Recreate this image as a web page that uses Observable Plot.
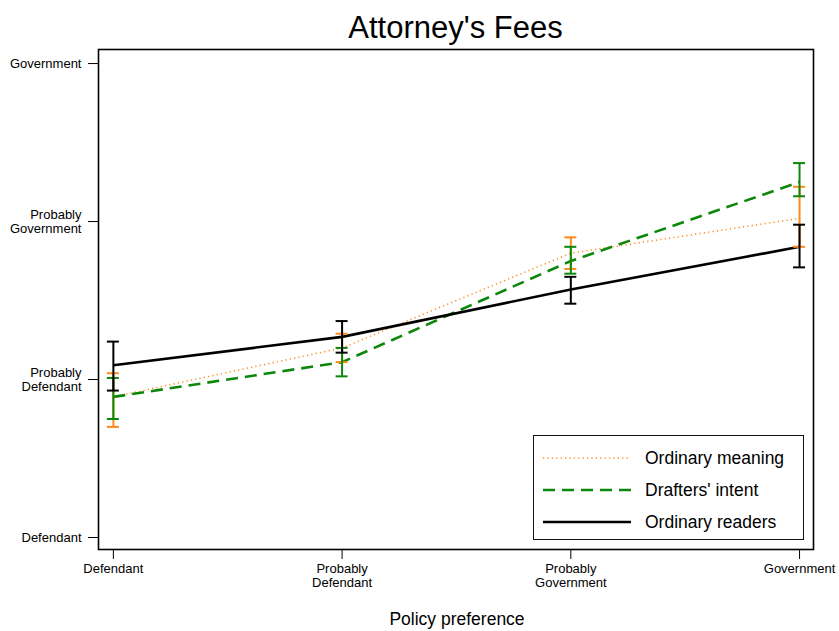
<!DOCTYPE html>
<html>
<head>
<meta charset="utf-8">
<script src="https://cdn.jsdelivr.net/npm/d3@7"></script>
<script src="https://cdn.jsdelivr.net/npm/@observablehq/plot@0.6"></script>
<style>
  html, body { margin: 0; padding: 0; background: #fff; }
  #wrap { position: relative; width: 839px; height: 631px; font-family: "Liberation Sans", Arial, sans-serif; }
  #title { position: absolute; left: 98px; width: 715px; top: 9px; text-align: center; font-size: 31px; line-height: 38px; }
  #xlabel { position: absolute; left: 98px; width: 718px; top: 608px; text-align: center; font-size: 17.5px; line-height: 22px; }
  #legend { position: absolute; left: 533px; top: 435px; width: 271px; height: 105px; border: 1.5px solid #111; background: #fff; box-sizing: border-box; }
  .item { position: absolute; left: 0; height: 24px; }
  .item svg { position: absolute; left: 9px; top: 0; }
  .item span { position: absolute; left: 111px; top: 0px; font-size: 17.5px; line-height: 22px; white-space: nowrap; }
</style>
</head>
<body>
<div id="wrap">
  <div id="chart"></div>
  <div id="title">Attorney's Fees</div>
  <div id="xlabel">Policy preference</div>
  <div id="legend"></div>
</div>
<script>
// ---- data ----
const categories = ["Defendant", "Probably\nDefendant", "Probably\nGovernment", "Government"];
const positions = [1, 2, 3, 4];
const seriesNames = ["Ordinary meaning", "Drafters' intent", "Ordinary readers"];

const meaningMean = [1.89, 2.20, 2.80, 3.02];
const meaningLow  = [1.70, 2.11, 2.70, 2.84];
const meaningHigh = [2.04, 2.29, 2.90, 3.22];

const draftersMean = [1.89, 2.11, 2.75, 3.25];
const draftersLow  = [1.75, 2.02, 2.67, 3.16];
const draftersHigh = [2.01, 2.20, 2.84, 3.37];

const readersMean = [2.09, 2.27, 2.57, 2.84];
const readersLow  = [1.93, 2.17, 2.48, 2.71];
const readersHigh = [2.24, 2.37, 2.65, 2.98];

// ---- styles ----
const styles = [
  {color: "#ff8a1c", lineWidth: 1.5, dash: "1.2,3.2", barColor: "#ff8a1c"},
  {color: "#0b870b", lineWidth: 2.6, dash: "12,7", barColor: "#0b870b"},
  {color: "#000000", lineWidth: 2.6, dash: null, barColor: "#000000"}
];

const means = [meaningMean, draftersMean, readersMean];
const lows = [meaningLow, draftersLow, readersLow];
const highs = [meaningHigh, draftersHigh, readersHigh];

const rows = seriesNames.flatMap((s, i) => positions.map((p, j) => ({
  series: s, x: p, mean: means[i][j], lo: lows[i][j], hi: highs[i][j]
})));

const lineMarks = seriesNames.map((s, i) => Plot.line(rows.filter(d => d.series === s), {
  x: "x", y: "mean", stroke: styles[i].color, strokeWidth: styles[i].lineWidth,
  strokeDasharray: styles[i].dash, strokeLinecap: "butt"
}));

const barMarks = seriesNames.flatMap((s, i) => {
  const d = rows.filter(r => r.series === s);
  const c = styles[i].barColor;
  return [
    Plot.ruleX(d, {x: "x", y1: "lo", y2: "hi", stroke: c, strokeWidth: 2}),
    Plot.ruleY(d, {y: "lo", x1: "x", x2: "x", insetLeft: -6, insetRight: -6, stroke: c, strokeWidth: 2}),
    Plot.ruleY(d, {y: "hi", x1: "x", x2: "x", insetLeft: -6, insetRight: -6, stroke: c, strokeWidth: 2})
  ];
});

const chart = Plot.plot({
  width: 839,
  height: 631,
  marginTop: 49,
  marginBottom: 82,
  marginLeft: 98,
  marginRight: 26,
  style: {fontFamily: "Liberation Sans, Arial, sans-serif", fontSize: "13px", color: "#000", background: "#fff"},
  x: {domain: [0.935, 4.061]},
  y: {domain: [0.924, 4.089]},
  marks: [
    Plot.axisY(positions, {tickSize: 10, tickPadding: 7, tickFormat: (d, i) => categories[i], label: null, fontSize: 13, lineHeight: 1.1, stroke: "#000", strokeWidth: 1}),
    Plot.axisX(positions, {tickSize: 10, tickPadding: 3, tickFormat: (d, i) => categories[i], label: null, fontSize: 13, lineHeight: 1.1, stroke: "#000", strokeWidth: 1}),
    ...lineMarks,
    ...barMarks,
    Plot.frame({stroke: "#000", strokeWidth: 1.6})
  ]
});
document.getElementById("chart").appendChild(chart);

// ---- legend ----
const legend = document.getElementById("legend");
seriesNames.forEach((s, i) => {
  const item = document.createElement("div");
  item.className = "item";
  item.style.top = (11 + i * 32) + "px";
  const dash = styles[i].dash ? `stroke-dasharray="${styles[i].dash}"` : "";
  item.innerHTML = `<svg width="90" height="24"><line x1="0" x2="88" y1="11" y2="11" stroke="${styles[i].color}" stroke-width="${styles[i].lineWidth}" ${dash}/></svg><span>${s}</span>`;
  legend.appendChild(item);
});
</script>
</body>
</html>
